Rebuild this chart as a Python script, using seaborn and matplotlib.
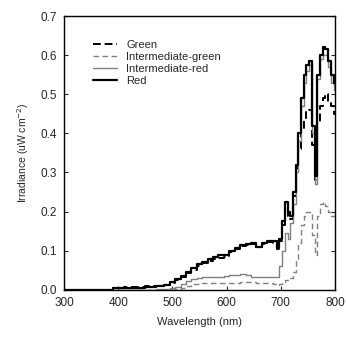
import numpy as np
import pandas as pd
import matplotlib
matplotlib.use("Agg")
import matplotlib.pyplot as plt
import seaborn as sns

# wavelength grid (nm), shared by all four spectra
wavelength = [300, 380, 400, 420, 440, 460, 480,
              490, 500, 510, 520, 530, 540, 550, 560, 570, 580, 590, 600,
              610, 620, 630, 640, 650, 660, 670, 680, 690,
              695, 700, 705, 710, 715, 720, 725, 730, 735, 740, 745, 750,
              755, 760, 765, 770, 775, 780, 785, 790, 795, 800]

red = [0.0, 0.0, 0.004, 0.005, 0.006, 0.008, 0.009,
       0.012, 0.02, 0.027, 0.035, 0.045, 0.055, 0.065, 0.072, 0.078, 0.085, 0.09, 0.088,
       0.1, 0.108, 0.115, 0.118, 0.12, 0.11, 0.12, 0.125, 0.124,
       0.108, 0.13, 0.175, 0.225, 0.2, 0.19, 0.25, 0.32, 0.4, 0.49, 0.55, 0.575,
       0.585, 0.42, 0.29, 0.55, 0.6, 0.62, 0.615, 0.585, 0.55, 0.53]

green = [0.0, 0.0, 0.006, 0.007, 0.008, 0.01, 0.011,
         0.013, 0.018, 0.025, 0.033, 0.043, 0.052, 0.062, 0.068, 0.073, 0.08, 0.082, 0.085,
         0.097, 0.105, 0.112, 0.115, 0.118, 0.11, 0.118, 0.122, 0.12,
         0.105, 0.125, 0.165, 0.21, 0.19, 0.18, 0.24, 0.3, 0.36, 0.41, 0.44, 0.455,
         0.46, 0.37, 0.28, 0.43, 0.47, 0.49, 0.5, 0.48, 0.47, 0.45]

inter_red = [0.0, 0.0, 0.0, 0.0, 0.0, 0.0, 0.001,
             0.002, 0.004, 0.008, 0.015, 0.022, 0.027, 0.03, 0.033, 0.034, 0.034, 0.033, 0.035,
             0.037, 0.039, 0.04, 0.039, 0.034, 0.033, 0.033, 0.033, 0.033,
             0.033, 0.06, 0.1, 0.145, 0.13, 0.17, 0.22, 0.3, 0.38, 0.47, 0.53, 0.56,
             0.575, 0.4, 0.27, 0.54, 0.59, 0.6, 0.6, 0.57, 0.53, 0.51]

inter_green = [0.0, 0.0, 0.0, 0.0, 0.0, 0.0, 0.0,
               0.0, 0.0, 0.002, 0.005, 0.01, 0.014, 0.016, 0.017, 0.017, 0.017, 0.017, 0.017,
               0.017, 0.018, 0.02, 0.02, 0.019, 0.018, 0.018, 0.017, 0.015,
               0.013, 0.015, 0.02, 0.025, 0.03, 0.03, 0.045, 0.08, 0.12, 0.165, 0.19, 0.2,
               0.2, 0.14, 0.09, 0.19, 0.22, 0.225, 0.215, 0.2, 0.19, 0.19]

names = ["Green", "Intermediate-green", "Intermediate-red", "Red"]
series = [green, inter_green, inter_red, red]

df = pd.concat([pd.DataFrame({"Wavelength": wavelength, "Irradiance": s, "Light": n})
                for n, s in zip(names, series)], ignore_index=True)

sns.set_style("ticks")
plt.rcParams["font.family"] = ["Liberation Sans", "DejaVu Sans"]

fig = plt.figure(figsize=(3.46, 3.41), dpi=100)
ax = fig.add_axes([0.185, 0.15, 0.783, 0.803])

palette = {"Green": "black", "Intermediate-green": "#808080",
           "Intermediate-red": "#808080", "Red": "black"}
dashes = {"Green": (4, 2), "Intermediate-green": (4, 2.5),
          "Intermediate-red": "", "Red": ""}
sizes = {"Green": 1.4, "Intermediate-green": 1.0,
         "Intermediate-red": 1.0, "Red": 1.6}

sns.lineplot(data=df, x="Wavelength", y="Irradiance", hue="Light", style="Light",
             size="Light", palette=palette, dashes=dashes, sizes=sizes,
             hue_order=names, style_order=names, size_order=names,
             estimator=None, drawstyle="steps-mid", ax=ax)

ax.set_xlim(300, 800)
ax.set_ylim(0, 0.7)
ax.set_xticks([300, 400, 500, 600, 700, 800])
ax.set_yticks(np.arange(0, 0.71, 0.1))
ax.set_yticklabels([f"{v:.1f}" for v in np.arange(0, 0.71, 0.1)])
ax.tick_params(direction="in", length=3, width=0.8, labelsize=8.5, right=True, pad=5)
for sp in ax.spines.values():
    sp.set_linewidth(1.0)
    sp.set_color("black")
ax.set_xlabel("Wavelength (nm)", fontsize=8, labelpad=6)
ax.set_ylabel("Irradiance (uW cm$^{-2}$)", fontsize=7.5, labelpad=7)

leg = ax.legend(loc="upper left", bbox_to_anchor=(0.09, 0.93), frameon=False,
                fontsize=8, handlelength=2.2, handletextpad=0.8,
                labelspacing=0.2, borderaxespad=0)

fig.savefig("out.png", dpi=100)
